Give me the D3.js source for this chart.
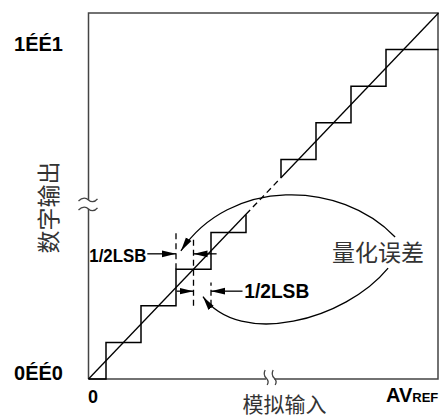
<!DOCTYPE html>
<html>
<head>
<meta charset="utf-8">
<script src="https://cdn.jsdelivr.net/npm/d3@7"></script>
<style>
  html, body { margin: 0; padding: 0; background: #fff; }
  svg { display: block; }
  .bold { font-family: "Liberation Sans", Arial, sans-serif; font-weight: bold; fill: #000; }
  .cjk { font-family: "Noto Sans CJK SC", sans-serif; fill: #333; }
</style>
</head>
<body>
<div id="chart"></div>
<script>
// all positions in LSB units (x: analog input, y: output code)
const stepLower = [[0, 0], [0.5, 0], [0.5, 1], [1.5, 1], [1.5, 2], [2.5, 2], [2.5, 3], [3.5, 3], [3.5, 4], [4.5, 4], [4.5, 4.5]];
const stepUpper = [[5.5, 5.5], [5.5, 6], [6.5, 6], [6.5, 7], [7.5, 7], [7.5, 8], [8.5, 8], [8.5, 9], [10, 9]];
const idealSolid = [[[0, 0], [4.5, 4.5]], [[5.5, 5.5], [10, 10]]];
const idealDashed = [[4.5, 4.5], [5.5, 5.5]];

const yTicks = [0, 9];
const yTickLabels = ["0ÉÉ0", "1ÉÉ1"];

// dashed guide lines of the 1/2 LSB annotation
const guides = [
    { x: 2.5, y0: 3, y1: 4 },
    { x: 3, y0: 2, y1: 3.86 },
    { x: 3.5, y0: 2, y1: 2.64 }
];
// horizontal arrows: from -> to (tip), at level y
const halfArrows = [
    { y: 3.42, from: 1.68, to: 2.5 },
    { y: 3.42, from: 3.66, to: 3.0 },
    { y: 2.4, from: 2.52, to: 3.0 },
    { y: 2.4, from: 4.4, to: 3.5 }
];
// curved arrows from the "量化误差" label (cubic bezier, LSB units)
const errorCurves = [
    [[8.76, 3.88], [7.19, 5.45], [4.04, 5.5], [2.64, 3.5]],
    [[8.56, 3.03], [7.33, 1.6], [4.33, 0.85], [3.27, 2.25]]
];

const W = 439, H = 419;
const x = d3.scaleLinear().domain([0, 10]).range([88.5, 438.5]);
const y = d3.scaleLinear().domain([0, 10]).range([379, 13]);

const svg = d3.select("#chart").append("svg")
    .attr("width", W)
    .attr("height", H);

svg.append("defs").append("marker")
    .attr("id", "head")
    .attr("viewBox", "-14 -4 14 8")
    .attr("refX", 0)
    .attr("refY", 0)
    .attr("markerUnits", "userSpaceOnUse")
    .attr("markerWidth", 14)
    .attr("markerHeight", 8)
    .attr("orient", "auto")
    .append("path")
    .attr("d", "M0,0L-14,-3.3L-14,3.3Z")
    .attr("fill", "#000");

// frame
const axisCol = "#444";
svg.append("path")
    .attr("d", `M${x(0)},${y(0)}V${y(10)}H${x(10) - 0.5}V${y(0)}H${x(0)}`)
    .attr("fill", "none")
    .attr("stroke", axisCol)
    .attr("stroke-width", 1.5);

const line = d3.line().x(d => x(d[0])).y(d => y(d[1]));

// staircase
[stepLower, stepUpper].forEach(s => {
    svg.append("path")
        .attr("d", line(s))
        .attr("fill", "none")
        .attr("stroke", "#000")
        .attr("stroke-width", 1.5);
});

// ideal transfer line
idealSolid.forEach(s => {
    svg.append("path")
        .attr("d", line(s))
        .attr("stroke", "#000")
        .attr("stroke-width", 1.3);
});
svg.append("path")
    .attr("d", line(idealDashed))
    .attr("stroke", "#000")
    .attr("stroke-width", 1.3)
    .attr("stroke-dasharray", "6,4");

// axis breaks
const yBreak = 4.77, xBreak = 5.19;
svg.append("rect")
    .attr("x", x(0) - 4).attr("y", y(yBreak) - 4.5)
    .attr("width", 8).attr("height", 9)
    .attr("fill", "#fff");
[-4.5, 4.5].forEach(o => {
    const cy = y(yBreak) + o, cx = x(0);
    svg.append("path")
        .attr("d", `M${cx - 10},${cy + 1}C${cx - 6},${cy - 3} ${cx - 2},${cy - 2} ${cx},${cy}S${cx + 6},${cy + 3} ${cx + 9},${cy - 1}`)
        .attr("fill", "none")
        .attr("stroke", axisCol)
        .attr("stroke-width", 1.3);
});
svg.append("rect")
    .attr("x", x(xBreak) - 4).attr("y", y(0) - 4)
    .attr("width", 8).attr("height", 8)
    .attr("fill", "#fff");
[-4, 4].forEach(o => {
    const cx = x(xBreak) + o, cy = y(0) - 1;
    svg.append("path")
        .attr("d", `M${cx - 1},${cy - 8}C${cx - 3},${cy - 4} ${cx - 2},${cy - 2} ${cx},${cy}S${cx + 3},${cy + 4} ${cx + 1},${cy + 7}`)
        .attr("fill", "none")
        .attr("stroke", axisCol)
        .attr("stroke-width", 1.3);
});

// 1/2 LSB guides and arrows
svg.selectAll(".guide").data(guides).join("line")
    .attr("class", "guide")
    .attr("x1", d => x(d.x)).attr("x2", d => x(d.x))
    .attr("y1", d => y(d.y0)).attr("y2", d => y(d.y1))
    .attr("stroke", "#000")
    .attr("stroke-width", 1.3)
    .attr("stroke-dasharray", "6,4");

svg.selectAll(".harrow").data(halfArrows).join("line")
    .attr("class", "harrow")
    .attr("x1", d => x(d.from)).attr("x2", d => x(d.to))
    .attr("y1", d => y(d.y)).attr("y2", d => y(d.y))
    .attr("stroke", "#000")
    .attr("stroke-width", 1.3)
    .attr("marker-end", "url(#head)");

svg.selectAll(".curve").data(errorCurves).join("path")
    .attr("class", "curve")
    .attr("d", d => {
        const p = d.map(q => [x(q[0]), y(q[1])]);
        return `M${p[0]}C${p[1]} ${p[2]} ${p[3]}`;
    })
    .attr("fill", "none")
    .attr("stroke", "#000")
    .attr("stroke-width", 1.3)
    .attr("marker-end", "url(#head)");

// labels
svg.append("text").attr("class", "bold")
    .attr("x", x(1.68) - 1).attr("y", y(3.2))
    .attr("text-anchor", "end")
    .attr("font-size", 18)
    .attr("textLength", 57).attr("lengthAdjust", "spacingAndGlyphs")
    .text("1/2LSB");
svg.append("text").attr("class", "bold")
    .attr("x", x(4.45)).attr("y", y(2.2))
    .attr("font-size", 20)
    .attr("textLength", 65).attr("lengthAdjust", "spacingAndGlyphs")
    .text("1/2LSB");

svg.selectAll(".ytick").data(yTicks).join("text")
    .attr("class", "ytick bold")
    .attr("x", 63)
    .attr("y", d => y(d) + 1)
    .attr("text-anchor", "end")
    .attr("font-size", 20)
    .text((d, i) => yTickLabels[i]);

svg.append("text").attr("class", "bold")
    .attr("x", x(0) - 0.5).attr("y", 403)
    .attr("font-size", 18)
    .text("0");

const av = svg.append("text").attr("class", "bold")
    .attr("x", 386).attr("y", 402)
    .attr("font-size", 20);
av.append("tspan").text("AV");
av.append("tspan").attr("font-size", 13).text("REF");

svg.append("text").attr("class", "cjk")
    .attr("x", 378).attr("y", 261)
    .attr("text-anchor", "middle")
    .attr("font-size", 23)
    .text("量化误差");

svg.append("text").attr("class", "cjk")
    .attr("x", 284.5).attr("y", 412)
    .attr("text-anchor", "middle")
    .attr("font-size", 21)
    .text("模拟输入");

svg.append("text").attr("class", "cjk")
    .attr("transform", "translate(46.5,207.5) rotate(-90)")
    .attr("text-anchor", "middle")
    .attr("dominant-baseline", "central")
    .attr("font-size", 23)
    .text("数字输出");
</script>
</body>
</html>
